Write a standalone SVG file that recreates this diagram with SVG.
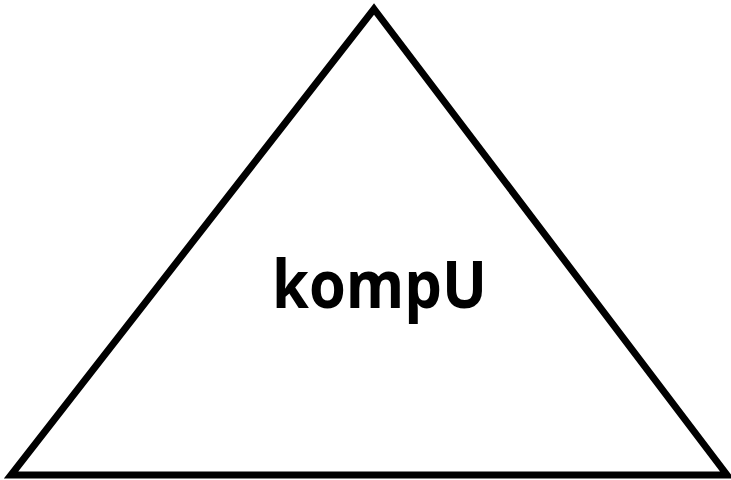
<svg xmlns="http://www.w3.org/2000/svg" width="731" height="480" viewBox="0 0 731 480">
<style>
.shape{fill:#fff;stroke:#000;stroke-width:7;stroke-linejoin:miter}
.label{font-family:"Open Sans","Liberation Sans",sans-serif;font-weight:700;font-size:67px;fill:#000}
</style>
<rect width="731" height="480" fill="#fff"/>
<g id="node-kompU">
<path class="shape" d="M374,9 L727,475 L11,475 Z"/>
<text class="label" x="379.5" y="308" text-anchor="middle" textLength="215" lengthAdjust="spacingAndGlyphs">kompU</text>
</g>
</svg>
